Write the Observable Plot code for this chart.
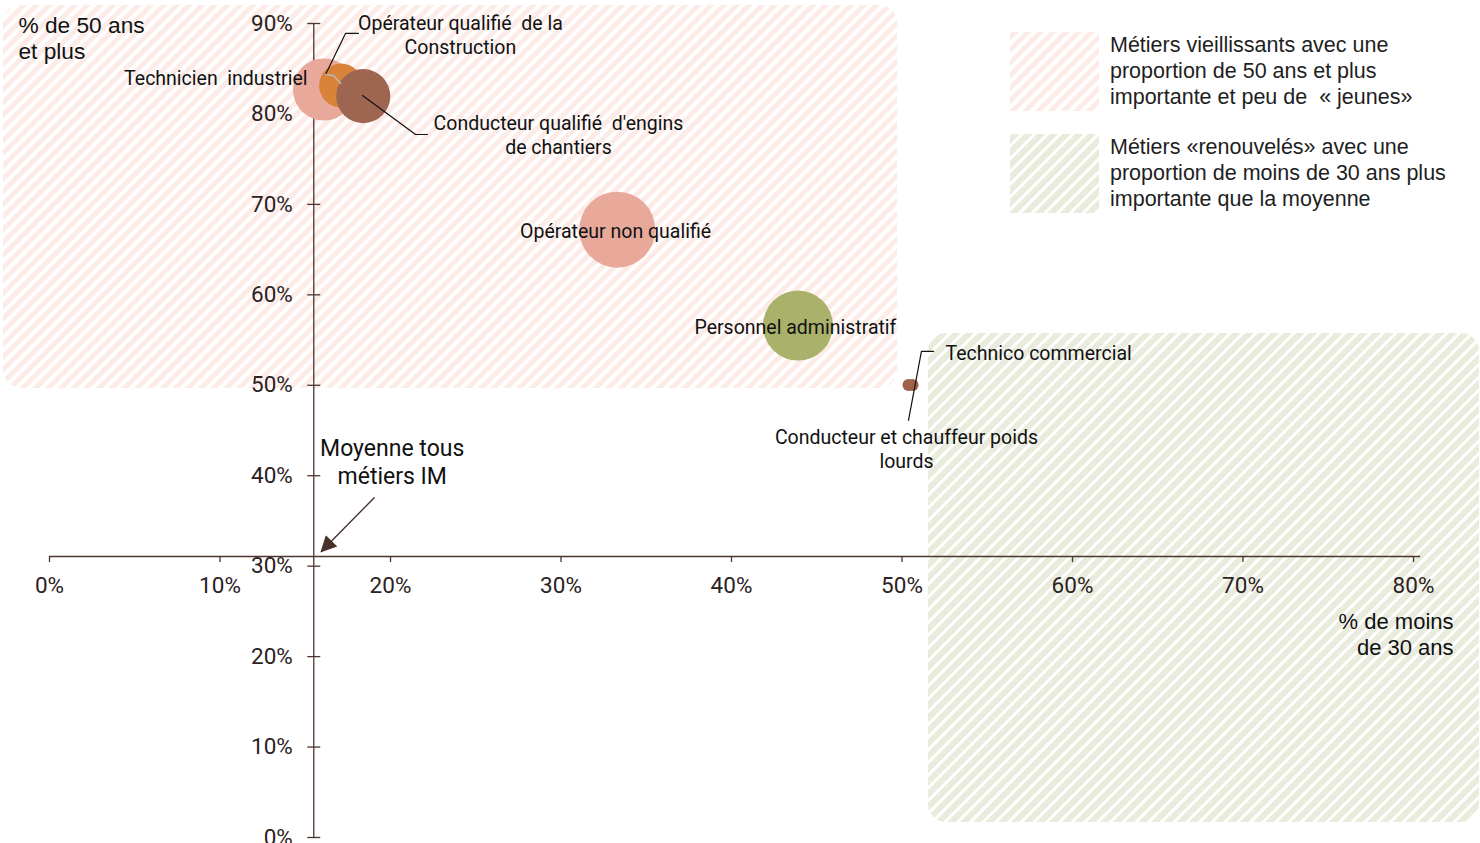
<!DOCTYPE html>
<html>
<head>
<meta charset="utf-8">
<script src="https://cdn.jsdelivr.net/npm/d3@7"></script>
<script src="https://cdn.jsdelivr.net/npm/@observablehq/plot@0.6"></script>
<style>
  html, body { margin: 0; padding: 0; background: #fff; }
  #chart { position: relative; width: 1480px; height: 843px; overflow: hidden; }
</style>
</head>
<body>
<div id="chart"></div>
<script>
// ---------- Données ----------
const metiers = [
  "Technicien industriel",
  "Opérateur qualifié de la Construction",
  "Conducteur qualifié d'engins de chantiers",
  "Opérateur non qualifié",
  "Personnel administratif",
  "Technico commercial",
  "Conducteur et chauffeur poids lourds"
];
const partMoins30 = [0.161, 0.171, 0.184, 0.333, 0.439, 0.5062, 0.5038];
const part50Plus  = [0.827, 0.8315, 0.8197, 0.672, 0.566, 0.5003, 0.5003];
const effectifs   = [9600, 4800, 7300, 14400, 12200, 360, 360];
const couleurs    = ["#e8a99b", "#d9833a", "#9e6650", "#e8a99b", "#a9b16a", "#a0604a", "#a0604a"];

const moyenneMoins30 = 0.155;
const moyenne50Plus = 0.3107;

const xTicks = [0, 0.1, 0.2, 0.3, 0.4, 0.5, 0.6, 0.7, 0.8];
const yTicks = [0, 0.1, 0.2, 0.3, 0.4, 0.5, 0.6, 0.7, 0.8, 0.9];

// zones (en unités des données)
const zoneVieillissants = {x1: -0.027, x2: 0.4974, y1: 0.4965, y2: 0.92};
const zoneRenouveles    = {x1: 0.5155, x2: 0.8387, y1: 0.0166, y2: 0.5573};

const legendeTextes = [
  ["Métiers vieillissants avec une", "proportion de 50 ans et plus", "importante et peu de  « jeunes»"],
  ["Métiers «renouvelés» avec une", "proportion de moins de 30 ans plus", "importante que la moyenne"]
];

// étiquettes (ancrées en unités des données)
const etiquettes = [
  {texte: "Opérateur qualifié  de la\nConstruction", x: 0.241, y: 0.888, ancre: "middle"},
  {texte: "Technicien  industriel", x: 0.1513, y: 0.841, ancre: "end"},
  {texte: "Conducteur qualifié  d'engins\nde chantiers", x: 0.2985, y: 0.777, ancre: "middle"},
  {texte: "Opérateur non qualifié", x: 0.332, y: 0.671, ancre: "middle"},
  {texte: "Personnel administratif", x: 0.4375, y: 0.565, ancre: "middle"},
  {texte: "Technico commercial", x: 0.5255, y: 0.537, ancre: "start"},
  {texte: "Conducteur et chauffeur poids\nlourds", x: 0.5026, y: 0.4307, ancre: "middle"}
];

const reperes = [
  {id: "construction", x: 0.1812, y: 0.889}, {id: "construction", x: 0.1736, y: 0.889}, {id: "construction", x: 0.1619, y: 0.8437},
  {id: "constructionGris", x: 0.1619, y: 0.8437}, {id: "constructionGris", x: 0.1666, y: 0.8426}, {id: "constructionGris", x: 0.1707, y: 0.8337},
  {id: "engins", x: 0.1836, y: 0.8204}, {id: "engins", x: 0.2147, y: 0.7773}, {id: "engins", x: 0.2217, y: 0.7773},
  {id: "technico", x: 0.5185, y: 0.5374}, {id: "technico", x: 0.5114, y: 0.5374}, {id: "technico", x: 0.5038, y: 0.4611}
];

const fleche = [{x1: 0.1906, y1: 0.3759, x2: 0.1595, y2: 0.3165}];

const bulles = metiers.map((m, i) => ({
  metier: m, moins30: partMoins30[i], plus50: part50Plus[i], effectif: effectifs[i], couleur: couleurs[i]
}));

const pct = d => Math.round(d * 100) + "%";
const axe = "#4e3430";
const police = "Roboto, 'Noto Sans', sans-serif";
const policeArial = "'Liberation Sans', Arial, sans-serif";

const etiquette = ancre => Plot.text(etiquettes.filter(d => d.ancre === ancre),
  {x: "x", y: "y", text: "texte", textAnchor: ancre, fontSize: 19.5, lineHeight: 1.23, fill: "#111"});

const svg = Plot.plot({
  width: 1480,
  height: 843,
  marginLeft: 49,
  marginRight: 67,
  marginTop: 23,
  marginBottom: 6,
  x: {domain: [0, 0.8], axis: null},
  y: {domain: [0, 0.9], axis: null},
  r: {domain: [0, 14400], range: [0, 38]},
  style: {fontFamily: police, background: "transparent", overflow: "visible"},
  marks: [
    Plot.rect([zoneVieillissants], {x1: "x1", x2: "x2", y1: "y1", y2: "y2", fill: "url(#hachurePink)", rx: 18}),
    Plot.rect([zoneRenouveles], {x1: "x1", x2: "x2", y1: "y1", y2: "y2", fill: "url(#hachureVert)", rx: 18}),
    // axe X
    Plot.ruleY([moyenne50Plus], {x1: 0, x2: 0.8042, stroke: axe, strokeWidth: 1.3}),
    Plot.ruleX(xTicks, {x: d => d, y1: moyenne50Plus, y2: moyenne50Plus, insetBottom: -6, stroke: axe, strokeWidth: 1.3}),
    Plot.text(xTicks, {x: d => d, y: moyenne50Plus, text: pct, dy: 29, fontSize: 22.5, fill: "#2b2222"}),
    // axe Y
    Plot.ruleX([moyenneMoins30], {y1: 0, y2: 0.9, stroke: axe, strokeWidth: 1.3}),
    Plot.ruleY(yTicks, {y: d => d, x1: moyenneMoins30, x2: moyenneMoins30, insetLeft: -6, insetRight: -7, stroke: axe, strokeWidth: 1.3}),
    Plot.text(yTicks, {x: moyenneMoins30, y: d => d, text: pct, textAnchor: "end", dx: -21, fontSize: 22.5, fill: "#2b2222"}),
    // bulles
    Plot.dot(bulles, {x: "moins30", y: "plus50", r: "effectif", fill: "couleur", stroke: "none", fillOpacity: 1, sort: null}),
    // repères
    Plot.line(reperes.filter(d => d.id !== "constructionGris"), {x: "x", y: "y", z: "id", stroke: "#111", strokeWidth: 1.2, curve: "linear"}),
    Plot.line(reperes.filter(d => d.id === "constructionGris"), {x: "x", y: "y", stroke: "#b8b8b8", strokeWidth: 1.5}),
    Plot.link(fleche, {x1: "x1", y1: "y1", x2: "x2", y2: "y2", stroke: "#3d2a27", strokeWidth: 1.3, className: "fleche"}),
    // étiquettes
    etiquette("middle"),
    etiquette("start"),
    etiquette("end"),
    Plot.text(["Moyenne tous\nmétiers IM"], {x: 0.201, y: 0.416, text: d => d, fontSize: 23, lineHeight: 1.18, fill: "#111"}),
    Plot.text(["% de 50 ans\net plus"], {x: -0.0182, y: 0.8845, text: d => d, textAnchor: "start", fontSize: 22.7, lineHeight: 1.15, fill: "#111", fontFamily: policeArial}),
    Plot.text(["% de moins\nde 30 ans"], {x: 0.8235, y: 0.225, text: d => d, textAnchor: "end", fontSize: 22, lineHeight: 1.15, fill: "#111", fontFamily: policeArial})
  ]
});

// motifs de hachures + marqueur de flèche
const s = d3.select(svg);
const defs = s.insert("defs", ":first-child");
function hachure(id, couleur, largeur) {
  const p = defs.append("pattern").attr("id", id).attr("patternUnits", "userSpaceOnUse")
    .attr("width", 9).attr("height", 9).attr("patternTransform", "rotate(45)");
  p.append("rect").attr("width", 9).attr("height", 9).attr("fill", "#fff");
  p.append("rect").attr("width", largeur).attr("height", 9).attr("fill", couleur);
}
hachure("hachurePink", "#fcebe7", 5);
hachure("hachureVert", "#e9ecdc", 6);
const mk = defs.append("marker").attr("id", "flecheMarker").attr("viewBox", "0 0 10 10")
  .attr("refX", 9).attr("refY", 5).attr("markerWidth", 20).attr("markerHeight", 16)
  .attr("markerUnits", "userSpaceOnUse").attr("orient", "auto");
mk.append("path").attr("d", "M0,0L10,5L0,10z").attr("fill", "#4a302b");
s.selectAll(".fleche path, .fleche line").attr("marker-end", "url(#flecheMarker)");

// légende
const leg = s.append("g").attr("font-family", policeArial).attr("font-size", 21.5)
  .attr("fill", "#1e1e1e").attr("text-anchor", "start");
const motifs = ["url(#hachurePink)", "url(#hachureVert)"];
legendeTextes.forEach((lignes, i) => {
  const y0 = 32 + i * 102;
  leg.append("rect").attr("x", 1010).attr("y", y0).attr("width", 89).attr("height", 79).attr("fill", motifs[i]);
  lignes.forEach((l, j) => {
    leg.append("text").attr("x", 1110).attr("y", y0 + 12 + j * 26).attr("dy", "0.35em")
      .attr("text-anchor", "start").text(l);
  });
});

document.getElementById("chart").appendChild(svg);
</script>
</body>
</html>
